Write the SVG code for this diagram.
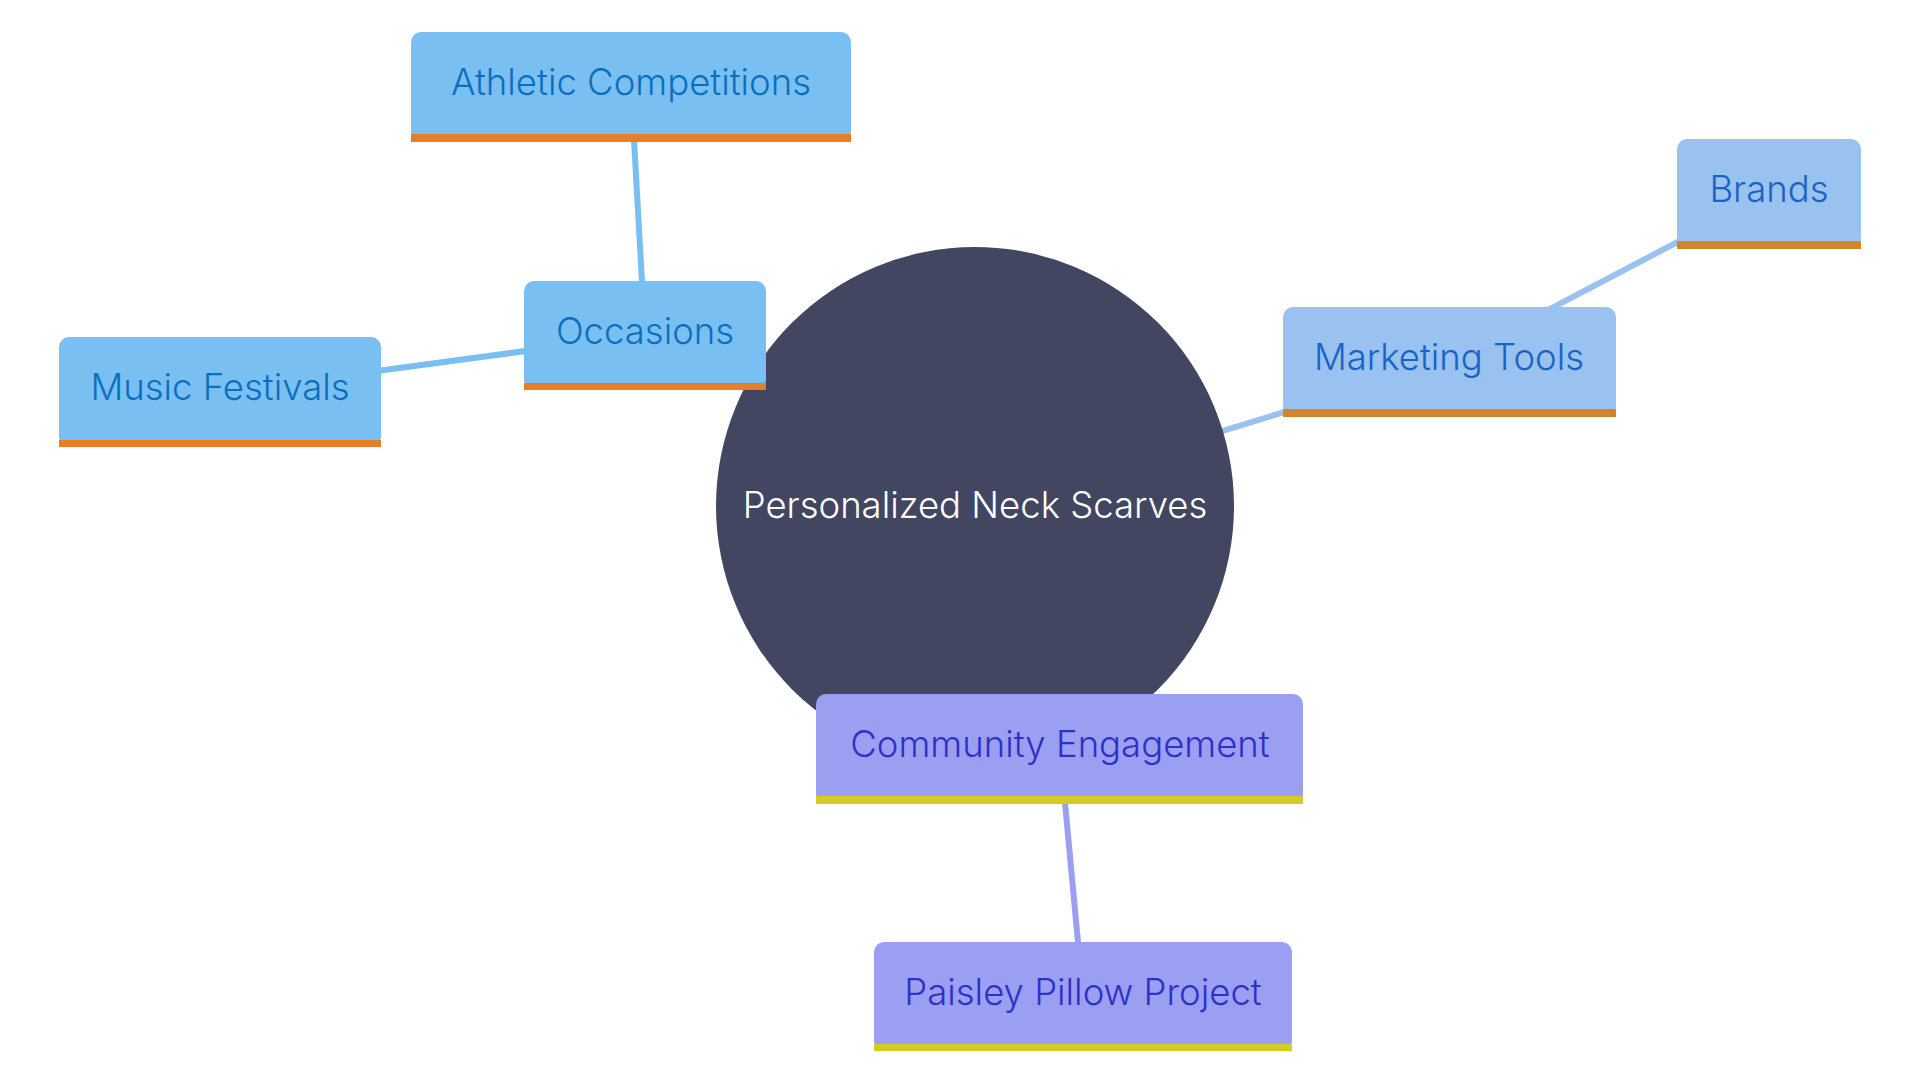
<svg xmlns="http://www.w3.org/2000/svg" width="1920" height="1080" viewBox="0 0 1920 1080">
<style>
text{font-family:Inter,"Noto Sans","Liberation Sans",sans-serif;font-size:36.5px;font-weight:300;text-anchor:middle}
.c1{stroke:#7ABFF2}.c2{stroke:#99C2F0}.c3{stroke:#9B9FF2}
.e{stroke-width:6;fill:none;stroke-linecap:butt}
.f1{fill:#7ABFF2}.f2{fill:#99C2F0}.f3{fill:#9B9FF2}
.b1{fill:#E67E2A}.b2{fill:#D4842A}.b3{fill:#D4CC22}
.t1{fill:#0B6FBF}.t2{fill:#1A63C6}.t3{fill:#3030C8}
</style>
<rect width="1920" height="1080" fill="#FFFFFF"/>
<g id="connectors">
<line class="e c1" x1="975" y1="506" x2="645" y2="335"/>
<line class="e c1" x1="645" y1="335" x2="631" y2="87"/>
<line class="e c1" x1="645" y1="335" x2="220" y2="392"/>
<line class="e c2" x1="975" y1="506" x2="1449" y2="362"/>
<line class="e c2" x1="1449" y1="362" x2="1769" y2="194"/>
<line class="e c3" x1="975" y1="506" x2="1060" y2="749"/>
<line class="e c3" x1="1060" y1="749" x2="1083" y2="996"/>
</g>
<g id="root">
<circle cx="975" cy="506" r="259" fill="#424660"/>
<text x="975" y="518" fill="#FFFFFF">Personalized Neck Scarves</text>
</g>
<g id="occasions">
<rect class="f1" x="524" y="281" width="242" height="109" rx="10"/>
<rect class="b1" x="524" y="383" width="242" height="7"/>
<text class="t1" x="645" y="344">Occasions</text>
</g>
<g id="athletic">
<rect class="f1" x="411" y="32" width="440" height="110" rx="10"/>
<rect class="b1" x="411" y="134" width="440" height="8"/>
<text class="t1" x="631" y="95">Athletic Competitions</text>
</g>
<g id="music">
<rect class="f1" x="59" y="337" width="322" height="110" rx="10"/>
<rect class="b1" x="59" y="440" width="322" height="7"/>
<text class="t1" x="220" y="400">Music Festivals</text>
</g>
<g id="marketing">
<rect class="f2" x="1283" y="307" width="333" height="110" rx="10"/>
<rect class="b2" x="1283" y="409" width="333" height="8"/>
<text class="t2" x="1449" y="370">Marketing Tools</text>
</g>
<g id="brands">
<rect class="f2" x="1677" y="139" width="184" height="110" rx="10"/>
<rect class="b2" x="1677" y="241" width="184" height="8"/>
<text class="t2" x="1769" y="202">Brands</text>
</g>
<g id="community">
<rect class="f3" x="816" y="694" width="487" height="110" rx="10"/>
<rect class="b3" x="816" y="796" width="487" height="8"/>
<text class="t3" x="1060" y="757">Community Engagement</text>
</g>
<g id="paisley">
<rect class="f3" x="874" y="942" width="418" height="109" rx="10"/>
<rect class="b3" x="874" y="1044" width="418" height="7"/>
<text class="t3" x="1083" y="1005">Paisley Pillow Project</text>
</g>
</svg>
